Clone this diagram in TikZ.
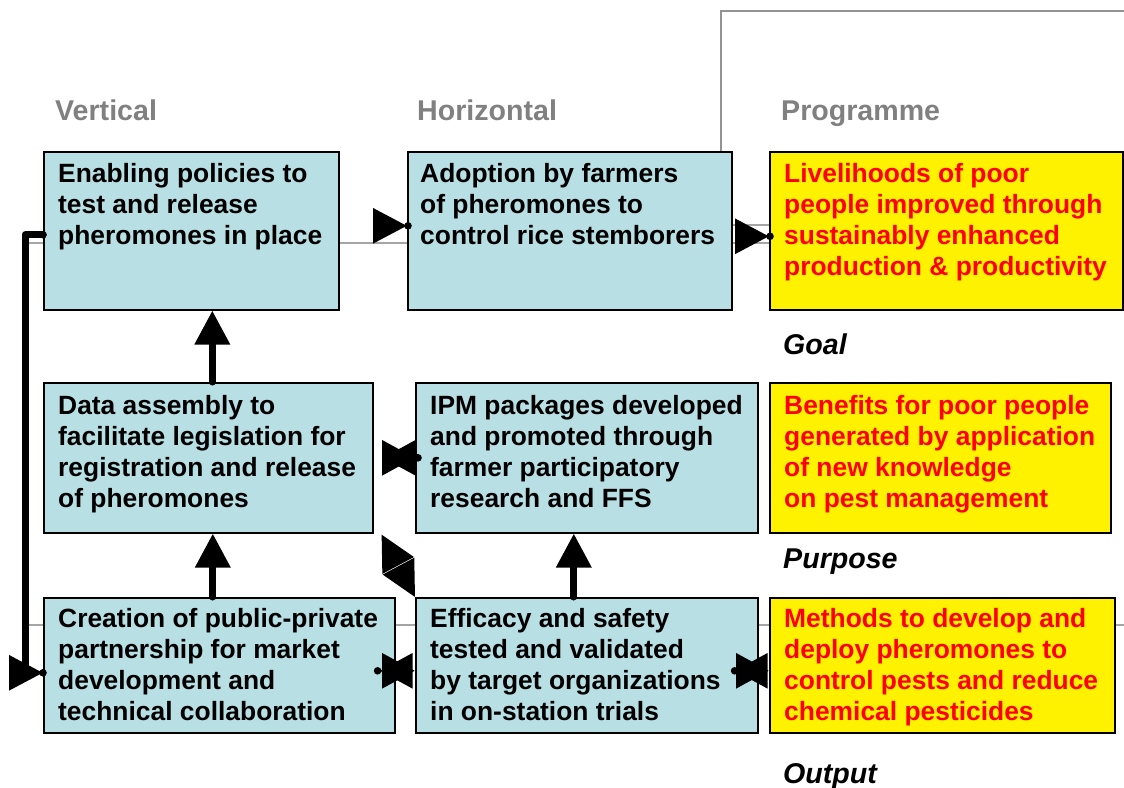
\documentclass[tikz,border=0pt]{standalone}
\usepackage{fontspec}
\setmainfont{Liberation Sans}
\usetikzlibrary{arrows.meta}
\definecolor{boxblue}{RGB}{184,223,227}
\definecolor{hdrgray}{RGB}{128,128,128}
\definecolor{linegray}{RGB}{165,165,165}
\begin{document}
\begin{tikzpicture}[x=1pt,y=-1pt,
  box/.style={draw=black, line width=1.6pt, fill=boxblue, inner sep=0pt, anchor=north west},
  ybox/.style={box, fill=yellow},
  txt/.style={anchor=base west, align=left, inner sep=0pt, font=\fontsize{26.4}{31}\selectfont\bfseries},
  rtxt/.style={txt, text=red},
  hdr/.style={anchor=base west, inner sep=0pt, font=\fontsize{28.6}{34}\selectfont\bfseries, text=hdrgray},
  lbl/.style={anchor=base west, inner sep=0pt, font=\fontsize{28.6}{34}\selectfont\bfseries\itshape},
  arr/.style={line width=7pt, line cap=round, -{Triangle[length=34pt,width=34pt]}},
  tiponly/.style={line width=6pt, line cap=butt, -{Triangle[length=34pt,width=34pt]}},
  thick line/.style={line width=7pt, line cap=round, line join=round},
  darr/.style={line width=6pt, line cap=butt, {Triangle[length=33pt,width=34pt]}-{Triangle[length=33pt,width=34pt]}},
  diag/.style={white, line width=3pt, line cap=butt, {Triangle[length=35pt,width=35pt,color=black]}-{Triangle[length=35pt,width=35pt,color=black]}},
  gline/.style={draw=linegray, line width=1.5pt}]
\useasboundingbox (0,0) rectangle (1124,787);

% decorative gray lines
\draw[gline] (25,243) -- (770,243);
\draw[gline] (731,225) -- (770,225);
\draw[gline] (25,625) -- (1124,625);
\draw[gline, draw=gray!85] (721,151) -- (721,11) -- (1124,11);

% headers
\node[hdr] (hv) at (55,120) {Vertical};
\node[hdr] (hh) at (417,120) {Horizontal};
\node[hdr] (hp) at (781,120) {Programme};

% boxes
\node[box, minimum width=295pt, minimum height=158pt] (b1) at (43,151) {};
\node[box, minimum width=324pt, minimum height=158pt] (b2) at (407,151) {};
\node[ybox, minimum width=353pt, minimum height=158pt] (b3) at (769,151) {};
\node[box, minimum width=329pt, minimum height=150pt] (b4) at (43,382) {};
\node[box, minimum width=342pt, minimum height=150pt] (b5) at (415,382) {};
\node[ybox, minimum width=341pt, minimum height=150pt] (b6) at (769,382) {};
\node[box, minimum width=351pt, minimum height=135pt] (b7) at (43,597) {};
\node[box, minimum width=342pt, minimum height=135pt] (b8) at (415,597) {};
\node[ybox, minimum width=345pt, minimum height=135pt] (b9) at (769,597) {};

% texts (base anchor = baseline of last line)
\node[txt] (t1) at ([xshift=15pt,yshift=-93pt]b1.north west) {Enabling policies to\\test and release\\pheromones in place};
\node[txt] (t2) at ([xshift=13pt,yshift=-93pt]b2.north west) {Adoption by farmers\\of pheromones to\\control rice stemborers};
\node[rtxt] (t3) at ([xshift=15pt,yshift=-124pt]b3.north west) {Livelihoods of poor\\people improved through\\sustainably enhanced\\production \& productivity};
\node[txt] (t4) at ([xshift=15pt,yshift=-125pt]b4.north west) {Data assembly to\\facilitate legislation for\\registration and release\\of pheromones};
\node[txt] (t5) at ([xshift=15pt,yshift=-125pt]b5.north west) {IPM packages developed\\and promoted through\\farmer participatory\\research and FFS};
\node[rtxt] (t6) at ([xshift=15pt,yshift=-125pt]b6.north west) {Benefits for poor people\\generated by application\\of new knowledge\\on pest management};
\node[txt] (t7) at ([xshift=15pt,yshift=-123pt]b7.north west) {Creation of public-private\\partnership for market\\development and\\technical collaboration};
\node[txt] (t8) at ([xshift=15pt,yshift=-123pt]b8.north west) {Efficacy and safety\\tested and validated\\by target organizations\\in on-station trials};
\node[rtxt] (t9) at ([xshift=15pt,yshift=-123pt]b9.north west) {Methods to develop and\\deploy pheromones to\\control pests and reduce\\chemical pesticides};

% level labels
\node[lbl] (lg) at (783,354) {Goal};
\node[lbl] (lpu) at (783,568) {Purpose};
\node[lbl] (lo) at (783,783) {Output};

% left feedback arrow
\draw[thick line] ([yshift=-4pt]b1.west) -- ++(-18,0) -- ++(0,438);
\draw[tiponly] ([xshift=-34pt,yshift=-7.5pt]b7.west) -- ([yshift=-7.5pt]b7.west);
\fill ([yshift=-4pt]b1.west) circle (3.8pt);
\fill ([yshift=-7.5pt]b7.west) circle (3.8pt);

% top row arrows
\draw[tiponly] ([xshift=-34pt,yshift=5pt]b2.west) -- ([yshift=5pt]b2.west);
\fill ([xshift=1pt,yshift=5pt]b2.west) circle (3.8pt);
\draw[tiponly] ([xshift=-34pt,yshift=-5.5pt]b3.west) -- ([yshift=-5.5pt]b3.west);
\fill ([xshift=1pt,yshift=-5.5pt]b3.west) circle (3.8pt);

% vertical arrows
\draw[arr] ([xshift=4pt]b4.north) -- ([xshift=21pt]b1.south);
\draw[arr] ([xshift=-6.5pt]b7.north) -- ([xshift=4.5pt]b4.south);
\draw[arr] ([xshift=-13pt]b8.north) -- ([xshift=-13pt]b5.south);

% double arrows
\draw[darr] ([xshift=9pt]b4.east) -- (b5.west);
\fill ([xshift=3pt]b5.west) circle (3.8pt);
\draw[darr] ([xshift=-16pt,yshift=-5.5pt]b7.east) -- ([yshift=-5.5pt]b8.west);
\fill ([xshift=-18pt,yshift=-5.5pt]b7.east) circle (3.8pt);
\draw[darr] ([xshift=-24pt,yshift=-5.5pt]b8.east) -- ([yshift=-5.5pt]b9.west);
\fill ([xshift=-24pt,yshift=-5.5pt]b8.east) circle (3.8pt);
\draw[diag] ([xshift=8pt,yshift=-1pt]b4.south east) -- (b8.north west);
\end{tikzpicture}
\end{document}
